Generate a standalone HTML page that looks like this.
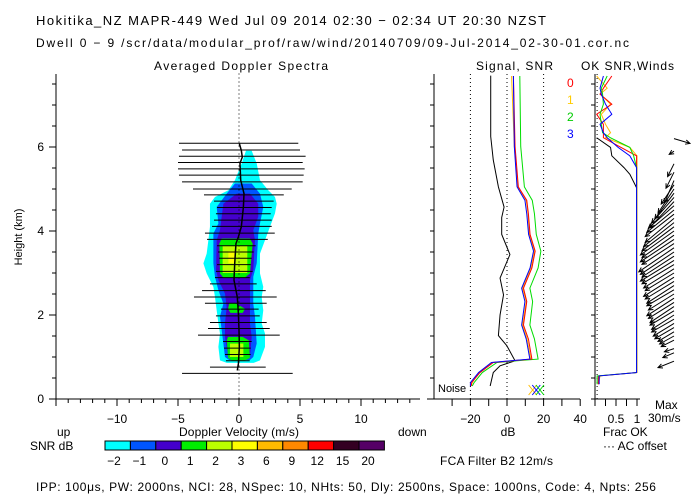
<!DOCTYPE html>
<html><head><meta charset="utf-8"><style>
body{margin:0;background:#fff}
svg{display:block;font-family:"Liberation Sans",sans-serif;font-size:12px}
</style></head><body>
<svg id="c" width="700" height="500" viewBox="0 0 700 500">
<rect width="700" height="500" fill="#fff"/>
<text x="36" y="25" font-size="13" textLength="510">Hokitika_NZ  MAPR-449  Wed Jul 09 2014 02:30 − 02:34 UT 20:30 NZST</text>
<text x="36" y="47" font-size="12" textLength="593">Dwell  0 −  9   /scr/data/modular_prof/raw/wind/20140709/09-Jul-2014_02-30-01.cor.nc</text>
<text x="154" y="70" textLength="174">Averaged Doppler Spectra</text>
<text x="476" y="70" textLength="77">Signal, SNR</text>
<text x="581" y="70" textLength="93">OK SNR,Winds</text>
<text x="22" y="237" text-anchor="middle" transform="rotate(-90 22 237)" font-size="11">Height (km)</text>
<text x="57" y="436">up</text>
<text x="398" y="436">down</text>
<text x="239" y="436" text-anchor="middle" textLength="120">Doppler Velocity (m/s)</text>
<text x="30" y="450">SNR dB</text>
<text x="508" y="436" text-anchor="middle">dB</text>
<text x="440" y="465" textLength="113">FCA Filter B2 12m/s</text>
<text x="655" y="409">Max</text>
<text x="648" y="422">30m/s</text>
<text x="603" y="436">Frac OK</text>
<text x="603" y="450">··· AC offset</text>
<text x="438" y="392" font-size="11">Noise</text>
<text x="36" y="491" textLength="620">IPP: 100μs,  PW: 2000ns,  NCI:  28,  NSpec: 10, NHts: 50,  Dly: 2500ns,  Space: 1000ns,  Code: 4,  Npts: 256</text>
<text x="567" y="87" fill="#f00">0</text>
<text x="567" y="104" fill="#fc0">1</text>
<text x="567" y="121" fill="#0c0">2</text>
<text x="567" y="138" fill="#00f">3</text>
<g id="g"></g>
</svg>
<script>
// ---- data ----
const heightTicks=[0,2,4,6];
const velTicks=[-10,-5,0,5,10];
const dbTicks=[-20,0,20,40];
const fracTicks=[0.5,1];
const cbLabels=["-2","-1","0","1","2","3","6","9","12","15","20"];
const cbColors=["#00ffff","#0055ff","#4400cc","#00ee00","#bbff00","#ffff00","#ffbb00","#ff8800","#ff0000","#330022","#550066"];
const widthH=[6.09,5.93,5.78,5.63,5.48,5.33,5.17,5.00,4.86,4.71,4.56,4.41,4.26,4.11,3.95,3.80,3.65,3.50,3.35,3.20,3.04,2.89,2.74,2.58,2.43,2.28,2.14,1.98,1.82,1.68,1.52,1.37,1.21,1.06,0.91,0.76,0.61];
const widthL=[-4.92,-4.67,-4.92,-5.0,-5.0,-4.92,-4.67,-3.77,-2.87,-2.05,-1.80,-1.89,-2.05,-2.21,-2.79,-2.62,-1.80,-1.72,-1.64,-1.80,-1.89,-1.97,-2.38,-3.03,-3.69,-2.79,-1.48,-1.89,-2.38,-2.54,-3.36,-1.31,-1.23,-1.15,-1.07,-2.38,-4.67];
const widthR=[4.86,5.0,5.46,5.22,5.38,5.30,5.22,4.32,3.67,2.84,2.68,2.60,2.68,2.68,2.93,2.36,1.37,1.20,1.04,0.96,1.12,0.88,1.45,2.19,3.09,2.27,1.61,1.70,2.27,2.52,3.34,1.04,0.96,0.96,0.88,2.19,4.40];
const meanH=[6.08,5.92,5.76,5.61,5.21,4.89,4.57,4.10,3.86,3.70,3.23,2.83,2.43,2.03,1.64,1.24,0.84,0.68];
const meanV=[0.03,0.19,0.27,0.08,0.14,0.41,0.36,0.19,-0.05,-0.25,-0.35,-0.41,-0.14,-0.05,0.0,0.03,-0.05,-0.14];
const cyanRows=[[5.91,0.57,1.04],[5.61,0.22,1.45],[5.21,-0.33,1.72],[4.97,-0.87,2.40],[4.81,-1.97,2.95],[4.65,-2.38,3.09],[4.42,-2.38,2.95],[4.10,-2.38,2.54],[3.78,-2.51,2.13],[3.46,-2.65,1.72],[3.23,-2.92,1.72],[2.99,-2.65,1.72],[2.67,-2.10,1.99],[2.43,-1.97,1.86],[2.11,-1.83,1.99],[1.80,-1.69,1.86],[1.56,-1.56,2.13],[1.24,-1.69,2.13],[0.92,-1.56,1.72],[0.86,-1.0,1.2]];
const blueRows=[[5.13,-0.33,1.04],[4.89,-1.01,1.72],[4.57,-1.83,1.99],[4.18,-1.69,1.72],[3.94,-2.10,1.58],[3.23,-2.10,1.45],[2.91,-1.97,1.17],[2.59,-1.69,1.17],[2.27,-1.28,1.17],[1.96,-1.56,1.31],[1.32,-1.28,1.45],[1.00,-1.15,1.17],[0.93,-0.8,0.9]];
const purpleRows=[[4.89,-0.19,0.90],[4.65,-1.28,1.58],[4.34,-1.42,1.58],[4.02,-1.56,1.17],[3.78,-1.83,1.31],[3.07,-1.88,1.17],[2.83,-1.69,0.90],[2.51,-1.15,0.90],[2.19,-1.01,0.90],[1.80,-1.15,0.90],[1.48,-1.15,1.04],[1.00,-0.87,0.90],[0.96,-0.6,0.6]];
const greenRows1=[[3.82,-1.42,0.90],[3.70,-1.61,1.12],[2.99,-1.56,0.90],[2.89,-1.28,0.49]];
const greenRows2=[[2.28,-0.8,-0.3],[2.15,-0.9,0.5],[2.05,-0.7,0.3]];
const greenRows3=[[1.48,-0.9,0.3],[1.40,-1.0,0.8],[0.98,-0.9,0.9],[0.92,-0.6,0.5]];
const ygRows1=[[3.65,-1.34,0.68],[3.0,-1.34,0.68]];
const ygRows2=[[1.32,-0.74,0.36],[1.0,-0.74,0.36]];
const yellowRows=[[3.52,-0.87,-0.33],[3.23,-0.87,-0.33]];
const sigBlackH=[7.70,6.25,5.69,5.05,4.57,4.32,3.92,3.44,2.88,2.48,2.00,1.51,1.27,0.91,0.79,0.63,0.31];
const sigBlackDb=[-8.9,-8.9,-7.5,-4.7,-1.6,-2.9,-2.9,1.6,-3.8,-1.9,-3.8,-4.7,-0.1,4.4,-3.8,-7.5,-9.2];
const snrH=[7.69,6.01,5.05,4.73,4.41,3.92,3.52,3.12,2.64,2.32,1.76,1.43,0.95,0.87,0.63,0.39,0.31];
const snrRed=[3.5,4.4,6.2,10.8,11.7,12.6,15.4,13.6,9.0,10.8,9.0,11.7,13.6,-7.5,-14.8,-19.3,-19.5];
const snrYellow=[2.5,4.0,6.0,10.5,11.5,12.2,15.0,13.0,8.5,10.5,8.5,11.0,13.0,-8.0,-15.5,-19.0,-19.8];
const snrGreen=[7.0,7.5,9.5,13.8,15.0,16.0,18.5,17.0,12.5,14.0,12.5,15.0,17.0,-5.5,-13.5,-18.0,-19.0];
const snrBlue=[3.5,4.0,5.5,9.8,10.8,11.8,14.5,12.6,8.0,9.8,8.0,10.5,12.5,-8.5,-15.5,-20,-20];
const okH=[7.69,7.40,7.26,7.02,6.78,6.54,6.34,6.22,5.99,5.79,5.51,5.03,0.63,0.55,0.35];
const okRed=[0.40,0.20,0.12,0.40,0.04,0.20,0.20,0.20,0.62,0.99,0.99,0.99,0.99,0.08,0.08];
const okYellow=[0.04,0.29,0.12,0.37,0.15,0.25,0.37,0.25,0.83,1.0,1.0,1.0,1.0,0.12,0.08];
const okGreen=[0.29,0.15,0.18,0.20,0.12,0.15,0.18,0.37,0.83,0.92,0.99,0.99,0.99,0.05,0.05];
const okBlue=[0.20,0.12,0.15,0.25,0.40,0.12,0.20,0.29,0.55,0.83,0.99,0.99,0.99,0.10,0.10];
const okSnrH=[6.22,5.99,5.79,5.51,5.35,5.03];
const okSnrF=[0.04,0.37,0.40,0.69,0.83,0.99];
const windH=[6.2,5.9,5.6,5.4,5.2,5.1,5.0,4.9,4.8,4.7,4.6,4.5,4.4,4.3,4.2,4.1,4.0,3.9,3.8,3.7,3.6,3.5,3.4,3.3,3.2,3.1,3.0,2.9,2.8,2.7,2.6,2.5,2.4,2.3,2.2,2.1,2.0,1.9,1.8,1.7,1.6,1.5,1.4,1.2,1.1,0.9];
const windU=[10,-3,-4,-5,-6,-8,-10,-12,-14,-15,-16,-17,-18,-18,-19,-20,-21,-20,-21,-20,-22,-21,-20,-21,-20,-19,-18,-19,-18,-17,-17,-16,-17,-16,-15,-15,-14,-14,-13,-12,-10,-9,-8,-6,-7,-10];
const windV=[-3,-2,-8,-10,-14,-12,-15,-16,-16,-16,-14,-14,-14,-15,-15,-15,-15,-14,-14,-13,-15,-14,-13,-13,-12,-12,-11,-12,-11,-11,-10,-10,-11,-10,-10,-9,-9,-8,-8,-7,-6,-5,-4,-2,-3,-4];
const noiseMarks=[14,16,18];
// ---- axes ----
const Y=h=>399-h*42;
const X=v=>239+v*12.2;
const XD=d=>507+d*1.83;
const XF=f=>595+f*42;
const NS="http://www.w3.org/2000/svg";
const G=document.getElementById('g');
function mk(t,a){const e=document.createElementNS(NS,t);for(const k in a)e.setAttribute(k,a[k]);G.appendChild(e);return e;}
function line(x1,y1,x2,y2,s,dash){const e=mk('line',{x1,y1,x2,y2,stroke:s||'#000','stroke-width':1});if(dash)e.setAttribute('stroke-dasharray',dash);return e;}
function poly(pts,s,w){return mk('polyline',{points:pts.map(p=>p.join(',')).join(' '),fill:'none',stroke:s,'stroke-width':w||1});}
function txt(x,y,s,anchor){const e=mk('text',{x,y,'text-anchor':anchor||'middle'});e.textContent=s;return e;}
function contour(rows,color){
  const pts=rows.map(r=>[X(r[1]),Y(r[0])]).concat(rows.slice().reverse().map(r=>[X(r[2]),Y(r[0])]));
  const e=mk('polygon',{points:pts.map(p=>p.join(',')).join(' '),fill:color,stroke:'none'});
  
  
}
contour(cyanRows,cbColors[0]);contour(blueRows,cbColors[1]);contour(purpleRows,cbColors[2]);
contour(greenRows1,cbColors[3]);contour(greenRows2,cbColors[3]);contour(greenRows3,cbColors[3]);
contour(ygRows1,cbColors[4]);contour(ygRows2,cbColors[4]);contour(yellowRows,cbColors[5]);
let z=line(X(0),Y(7.75),X(0),399,'#000','1,3');


widthH.forEach((h,i)=>{const e=line(X(widthL[i]),Y(h),X(widthR[i]),Y(h),'#000');

});
let ml=poly(meanH.map((h,i)=>[X(meanV[i]),Y(h)]),'#000',1.5);


line(56,74,56,399);line(56,399,420,399);
for(let h=0;h<=7.5;h+=0.5){const big=heightTicks.includes(h);line(big?49:52,Y(h),56,Y(h));}
heightTicks.forEach(h=>{const t=txt(44,Y(h)+4,String(h),'end');

});
for(let v=-15;v<=14;v++){const big=v%5===0;line(X(v),399,X(v),big?406:403);}
velTicks.forEach(v=>{const t=txt(X(v),423,v<0?'−'+(-v):String(v));

});
line(434,74,434,399);line(427,399,580,399);
for(let h=0;h<=7.5;h+=0.5)line(430,Y(h),434,Y(h));
[-20,0,20].forEach(d=>line(XD(d),74,XD(d),399,'#000','1,3'));
for(let d=-30;d<=40;d+=10)line(XD(d),399,XD(d),406);
dbTicks.forEach(d=>{const t=txt(XD(d),423,d<0?'−'+(-d):String(d));

});
function sline(h,d,c,n){const e=poly(h.map((v,i)=>[XD(d[i]),Y(v)]),c);

}
sline(sigBlackH,sigBlackDb,'#000','signal-line');
sline(snrH,snrGreen,'#00dd00','snr-line-2');sline(snrH,snrYellow,'#ffbb00','snr-line-1');
sline(snrH,snrRed,'#ff0000','snr-line-0');sline(snrH,snrBlue,'#0000ff','snr-line-3');
const mc=['#ffbb00','#0000ff','#00dd00'];
noiseMarks.forEach((d,i)=>{const x=XD(d),y=390;line(x-4,y-5,x+4,y+5,mc[i]);line(x-4,y+5,x+4,y-5,mc[i]);});
line(595,74,595,399);line(592,399,640,399);
for(let h=0;h<=7.5;h+=0.5)line(591,Y(h),595,Y(h));
line(XF(0.05),74,XF(0.05),399,'#000','1,3');
for(let f=0;f<=1.01;f+=0.25)line(XF(f),399,XF(f),406);
fracTicks.forEach(f=>{const t=txt(XF(f),423,String(f));

});
function oline(d,c,n){const e=poly(okH.map((h,i)=>[XF(d[i]),Y(h)]),c);

}
let ok=poly(okSnrH.map((h,i)=>[XF(okSnrF[i]),Y(h)]),'#000');


oline(okYellow,'#ffbb00','ok-line-1');oline(okRed,'#ff0000','ok-line-0');oline(okGreen,'#00dd00','ok-line-2');oline(okBlue,'#0000ff','ok-line-3');
windH.forEach((h,i)=>{const sc=1.6,x0=674,y0=Y(h),x1=x0+windU[i]*sc,y1=y0-windV[i]*sc;
const a=Math.atan2(y1-y0,x1-x0),L=5;
const p=[[x0,y0],[x1,y1],[x1-L*Math.cos(a-0.45),y1-L*Math.sin(a-0.45)],[x1,y1],[x1-L*Math.cos(a+0.45),y1-L*Math.sin(a+0.45)]];
const e=poly(p,'#000');

});
cbColors.forEach((c,i)=>{const e=mk('rect',{x:105+i*25.4,y:441,width:25.4,height:9,fill:c,stroke:'#000','stroke-width':1});


const t=txt(114+i*25.4,465,cbLabels[i].replace('-','−'));

});
</script>
</body></html>
